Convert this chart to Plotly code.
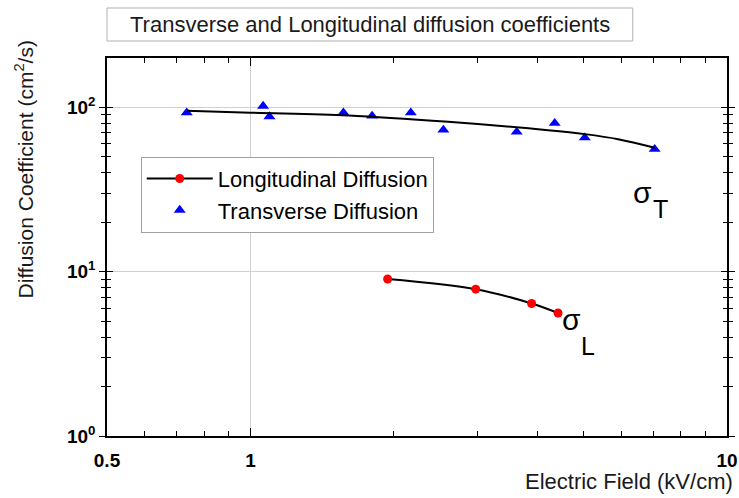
import plotly.graph_objects as go

# ---- data ----
trans_x = [0.735, 1.063, 1.096, 1.567, 1.80, 2.17, 2.54, 3.62, 4.35, 5.03, 7.05]
trans_y = [93.0, 102.0, 88.0, 93.0, 88.8, 93.0, 73.0, 71.0, 80.2, 65.5, 55.7]

trans_fit_x = [0.735, 1.0, 1.605, 2.60, 4.21, 5.03, 5.91, 7.05]
trans_fit_y = [95.6, 92.9, 89.4, 81.7, 72.7, 68.8, 64.1, 56.9]

long_x = [1.94, 2.97, 3.89, 4.42]
long_y = [9.03, 7.83, 6.41, 5.61]

x_tickvals = [0.5, 1, 10]
x_ticktext = ["<b>0.5</b>", "<b>1</b>", "<b>10</b>"]
x_minor = [0.6, 0.7, 0.8, 0.9, 2, 3, 4, 5, 6, 7, 8, 9]
y_tickvals = [1, 10, 100]
y_ticktext = ["<b>10<sup>0</sup></b>", "<b>10<sup>1</sup></b>", "<b>10<sup>2</sup></b>"]
y_minor = [2, 3, 4, 5, 6, 7, 8, 9, 20, 30, 40, 50, 60, 70, 80, 90]

FONT = "Arial, Liberation Sans, sans-serif"

fig = go.Figure()
fig.add_trace(go.Scatter(
    x=long_x, y=long_y, mode="lines+markers", name="Longitudinal Diffusion",
    line=dict(color="black", width=2, shape="spline"),
    marker=dict(color="#ff0000", size=9, symbol="circle"),
))
fig.add_trace(go.Scatter(
    x=trans_x, y=trans_y, mode="markers", name="Transverse Diffusion",
    marker=dict(color="#0000ff", size=10.5, symbol="triangle-up"),
))
fig.add_trace(go.Scatter(
    x=trans_fit_x, y=trans_fit_y, mode="lines", showlegend=False,
    line=dict(color="black", width=2, shape="spline"),
))
# helper axis for ticks crossing the y axis line
fig.add_trace(go.Scatter(x=[], y=[], yaxis="y2", showlegend=False, hoverinfo="skip"))

axis_common = dict(showline=True, linecolor="black", linewidth=1.5, mirror="ticks",
                   tickcolor="black", tickwidth=1.2, zeroline=False, automargin=False)

fig.update_layout(
    width=739, height=498,
    margin=dict(l=107, r=12, t=58, b=62),
    paper_bgcolor="white", plot_bgcolor="white",
    font=dict(family=FONT, color="black"),
    xaxis=dict(type="log", range=[-0.30103, 1.0],
               tickmode="array", tickvals=x_tickvals, ticktext=x_ticktext,
               ticks="inside", ticklen=8, ticklabelstandoff=6,
               tickfont=dict(size=19, family=FONT),
               showgrid=True, gridcolor="#d0d0d0", gridwidth=1,
               minor=dict(tickmode="array", tickvals=x_minor, ticks="inside",
                          ticklen=5, tickcolor="black", showgrid=False),
               **axis_common),
    yaxis=dict(type="log", range=[0, 2.30103],
               tickmode="array", tickvals=y_tickvals, ticktext=y_ticktext,
               ticks="outside", ticklen=6,
               tickfont=dict(size=19, family=FONT),
               showgrid=True, gridcolor="#d0d0d0", gridwidth=1,
               minor=dict(tickmode="array", tickvals=y_minor, ticks="outside",
                          ticklen=4, tickcolor="black", showgrid=False),
               **axis_common),
    yaxis2=dict(type="log", range=[0, 2.30103], overlaying="y", side="left",
                tickmode="array", tickvals=y_tickvals, ticks="inside", ticklen=6,
                showticklabels=False, showgrid=False,
                minor=dict(tickmode="array", tickvals=y_minor, ticks="inside",
                           ticklen=4, tickcolor="black", showgrid=False),
                **axis_common),
    legend=dict(x=0.0544, y=0.739, xanchor="left", yanchor="top",
                bgcolor="white", bordercolor="#a0a0a0", borderwidth=1,
                font=dict(size=22, family=FONT), itemwidth=66,
                tracegroupgap=0),
    showlegend=True,
)

# title box
fig.add_shape(type="rect", xref="paper", yref="paper",
              x0=0.0, x1=0.848, y0=1.045, y1=1.1323,
              line=dict(color="#b0b0b0", width=1), fillcolor="white", layer="above")
fig.add_annotation(text="Transverse and Longitudinal diffusion coefficients",
                   xref="paper", yref="paper", x=0.424, y=1.0886,
                   xanchor="center", yanchor="middle", showarrow=False,
                   font=dict(size=22, family=FONT, color="#1a1a1a"))

# axis titles
fig.add_annotation(text="Electric Field (kV/cm)", xref="paper", yref="paper",
                   x=1.0129, y=-0.158, xanchor="right", yanchor="bottom",
                   showarrow=False, font=dict(size=22, family=FONT, color="#1a1a1a"))
fig.add_annotation(text="Diffusion Coefficient (cm<sup>2</sup>/s)", xref="paper", yref="paper",
                   x=-0.134, y=0.705, xanchor="center", yanchor="middle", textangle=-90,
                   showarrow=False, font=dict(size=21, family=FONT, color="#1a1a1a"))

# sigma labels
def px2paper(px, py):
    return (px - 107) / 620.0, (436 - py) / 378.0

for sx, sy, sub_x, sub_y, sub in [(642.5, 192.5, 660, 209, "T"), (571, 319, 587.5, 345.5, "L")]:
    ax, ay = px2paper(sx, sy)
    fig.add_annotation(text="σ", xref="paper", yref="paper", x=ax, y=ay,
                       xanchor="center", yanchor="middle", showarrow=False,
                       font=dict(size=30, family=FONT, color="black"))
    bx, by = px2paper(sub_x, sub_y)
    fig.add_annotation(text=sub, xref="paper", yref="paper", x=bx, y=by,
                       xanchor="center", yanchor="middle", showarrow=False,
                       font=dict(size=25, family=FONT, color="black"))

fig.write_html("out.html")
